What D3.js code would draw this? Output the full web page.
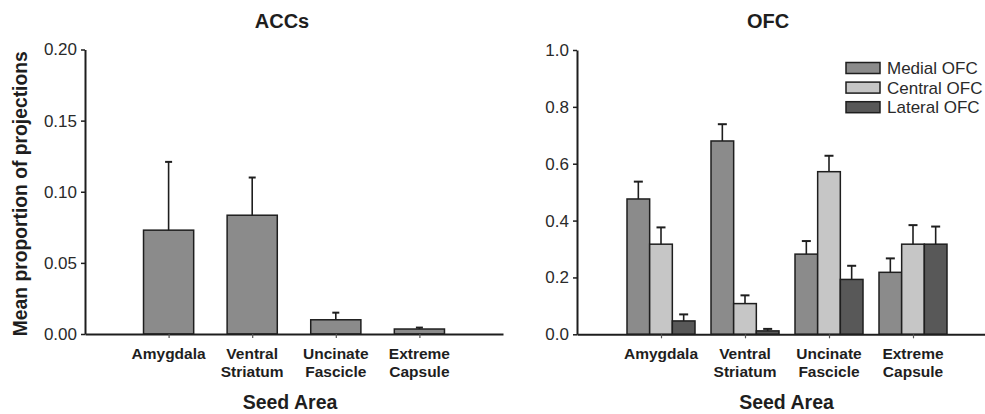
<!DOCTYPE html>
<html>
<head>
<meta charset="utf-8">
<script src="https://cdn.jsdelivr.net/npm/d3@7"></script>
<style>
  html, body { margin: 0; padding: 0; background: #fff; }
  svg { display: block; font-family: "Liberation Sans", Arial, sans-serif; }
</style>
</head>
<body>
<svg id="chart" width="985" height="414"></svg>
<script>
// Seed areas along the x axis (label lines)
const categories = ["Amygdala", "Ventral Striatum", "Uncinate Fascicle", "Extreme Capsule"];
const categoryLines = [["Amygdala"], ["Ventral", "Striatum"], ["Uncinate", "Fascicle"], ["Extreme", "Capsule"]];

// ACCs panel: mean proportion and SEM
const accMean = [0.073, 0.0835, 0.010, 0.0035];
const accSem  = [0.048, 0.0265, 0.005, 0.001];

// OFC panel: one series per subregion
const ofcSeries = ["Medial OFC", "Central OFC", "Lateral OFC"];
const medialMean  = [0.476, 0.680, 0.282, 0.218];
const medialSem   = [0.061, 0.059, 0.046, 0.049];
const centralMean = [0.317, 0.108, 0.572, 0.317];
const centralSem  = [0.059, 0.029, 0.056, 0.067];
const lateralMean = [0.047, 0.012, 0.193, 0.317];
const lateralSem  = [0.023, 0.007, 0.048, 0.062];

const accTicks = [0, 0.05, 0.10, 0.15, 0.20];
const ofcTicks = [0, 0.2, 0.4, 0.6, 0.8, 1.0];

const seriesColor = { "Medial OFC": "#8b8b8b", "Central OFC": "#c6c6c6", "Lateral OFC": "#585858" };
const accColor = "#8b8b8b";
const ink = "#1e1e1e";

const svg = d3.select("#chart");

function drawAxes(g, x, y, ticks, fmt, axisStart, axisEnd) {
  // y axis
  const ya = g.append("g")
    .attr("transform", `translate(${axisStart},0)`)
    .call(d3.axisLeft(y).tickValues(ticks).tickFormat(fmt).tickSize(4).tickSizeOuter(0).tickPadding(4));
  ya.select(".domain").attr("stroke", ink).attr("stroke-width", 2);
  ya.selectAll(".tick line").attr("stroke", ink).attr("stroke-width", 1.5);
  ya.selectAll(".tick text").attr("font-size", 17).attr("fill", "#2a2a2a")
    .attr("font-family", "Liberation Sans, Arial, sans-serif");

  // x axis
  const xa = g.append("g")
    .attr("transform", `translate(0,${y(0)})`)
    .call(d3.axisBottom(x).tickFormat("").tickSize(4).tickSizeOuter(0));
  xa.select(".domain").attr("stroke", ink).attr("stroke-width", 2);
  xa.selectAll(".tick line").attr("stroke", "#555").attr("stroke-width", 1.2);

  // category labels
  const lab = g.append("g");
  categories.forEach((c, i) => {
    const t = lab.append("text")
      .attr("x", x(c))
      .attr("y", y(0) + 25)
      .attr("text-anchor", "middle")
      .attr("font-size", 15.5)
      .attr("font-weight", "bold")
      .attr("fill", ink);
    categoryLines[i].forEach((line, j) => {
      t.append("tspan").attr("x", x(c)).attr("dy", j === 0 ? 0 : 18).text(line);
    });
  });
}

function errorBar(g, cx, yTop, yErr, capW) {
  g.append("line").attr("x1", cx).attr("x2", cx).attr("y1", yTop).attr("y2", yErr)
    .attr("stroke", ink).attr("stroke-width", 1.6);
  g.append("line").attr("x1", cx - capW / 2).attr("x2", cx + capW / 2).attr("y1", yErr).attr("y2", yErr)
    .attr("stroke", ink).attr("stroke-width", 2);
}

// ---------- ACCs panel ----------
{
  const axisStart = 85, axisEnd = 503;
  const x = d3.scalePoint().domain(categories).range([axisStart, axisEnd]).padding(1);
  const y = d3.scaleLinear().domain([0, 0.20]).range([334, 49.5]);
  const barW = x.step() * 0.6;
  const g = svg.append("g");

  categories.forEach((c, i) => {
    g.append("rect")
      .attr("x", x(c) - barW / 2)
      .attr("y", y(accMean[i]))
      .attr("width", barW)
      .attr("height", y(0) - y(accMean[i]))
      .attr("fill", accColor)
      .attr("stroke", ink)
      .attr("stroke-width", 1.5);
    errorBar(g, x(c), y(accMean[i]), y(accMean[i] + accSem[i]), 7);
  });

  drawAxes(g, x, y, accTicks, d3.format(".2f"), axisStart, axisEnd);

  g.append("text").attr("x", 282).attr("y", 28).attr("text-anchor", "middle")
    .attr("font-size", 20).attr("font-weight", "bold").attr("fill", ink).text("ACCs");
  g.append("text").attr("x", 290).attr("y", 409).attr("text-anchor", "middle")
    .attr("font-size", 19.5).attr("font-weight", "bold").attr("fill", ink).text("Seed Area");
  g.append("text")
    .attr("transform", `translate(27,${(y(0) + y(0.2)) / 2 + 2}) rotate(-90)`)
    .attr("text-anchor", "middle")
    .attr("font-size", 19.3).attr("font-weight", "bold").attr("fill", ink)
    .text("Mean proportion of projections");
}

// ---------- OFC panel ----------
{
  const axisStart = 577, axisEnd = 997;
  const x = d3.scalePoint().domain(categories).range([axisStart, axisEnd]).padding(1);
  const y = d3.scaleLinear().domain([0, 1.0]).range([334.3, 50]);
  const groupW = 68;
  const xs = d3.scaleBand().domain(ofcSeries).range([-groupW / 2, groupW / 2]).padding(0);
  const means = { "Medial OFC": medialMean, "Central OFC": centralMean, "Lateral OFC": lateralMean };
  const sems  = { "Medial OFC": medialSem,  "Central OFC": centralSem,  "Lateral OFC": lateralSem };
  const g = svg.append("g");

  categories.forEach((c, i) => {
    ofcSeries.forEach(s => {
      const v = means[s][i];
      const bx = x(c) + xs(s);
      g.append("rect")
        .attr("x", bx)
        .attr("y", y(v))
        .attr("width", xs.bandwidth())
        .attr("height", y(0) - y(v))
        .attr("fill", seriesColor[s])
        .attr("stroke", ink)
        .attr("stroke-width", 1.5);
      errorBar(g, bx + xs.bandwidth() / 2, y(v), y(v + sems[s][i]), 9);
    });
  });

  drawAxes(g, x, y, ofcTicks, d3.format(".1f"), axisStart, axisEnd);

  g.append("text").attr("x", 768).attr("y", 28).attr("text-anchor", "middle")
    .attr("font-size", 20).attr("font-weight", "bold").attr("fill", ink).text("OFC");
  g.append("text").attr("x", 786.5).attr("y", 409).attr("text-anchor", "middle")
    .attr("font-size", 19.5).attr("font-weight", "bold").attr("fill", ink).text("Seed Area");

  // legend
  const lg = g.append("g").attr("transform", "translate(846,68)");
  ofcSeries.forEach((s, k) => {
    const row = lg.append("g").attr("transform", `translate(0,${k * 19.6})`);
    row.append("rect").attr("x", 0).attr("y", -5.5).attr("width", 34).attr("height", 11)
      .attr("fill", seriesColor[s]).attr("stroke", ink).attr("stroke-width", 1.5);
    row.append("text").attr("x", 41).attr("y", 0).attr("dy", "0.36em")
      .attr("font-size", 17).attr("fill", "#2a2a2a").text(s);
  });
}
</script>
</body>
</html>
